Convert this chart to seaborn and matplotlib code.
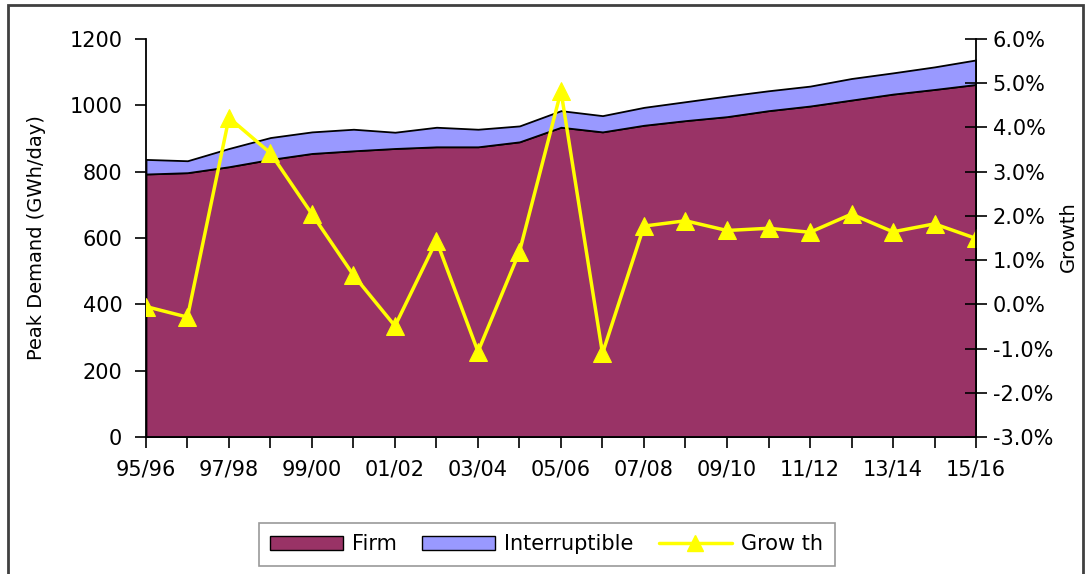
import numpy as np
import pandas as pd
import seaborn as sns
import matplotlib.pyplot as plt
from matplotlib.patches import Patch, Rectangle
from matplotlib.lines import Line2D
from matplotlib.ticker import FuncFormatter

years = ['95/96', '96/97', '97/98', '98/99', '99/00', '00/01', '01/02', '02/03',
         '03/04', '04/05', '05/06', '06/07', '07/08', '08/09', '09/10', '10/11',
         '11/12', '12/13', '13/14', '14/15', '15/16']
firm = [793, 797, 815, 837, 855, 863, 870, 875, 875, 890, 934,
        920, 940, 954, 966, 984, 998, 1016, 1034, 1048, 1063]
interruptible = [44, 36, 55, 66, 65, 65, 49, 59, 53, 48, 50,
                 49, 54, 57, 62, 60, 60, 65, 64, 68, 74]
growth = [-0.05, -0.29, 4.22, 3.42, 2.04, 0.66, -0.49, 1.44, -1.07, 1.19, 4.82,
          -1.11, 1.77, 1.89, 1.67, 1.72, 1.63, 2.04, 1.64, 1.82, 1.49]

df = pd.DataFrame({'year': years, 'firm': firm,
                   'interruptible': interruptible, 'growth': growth})
df['x'] = np.arange(len(df))

sns.set_style('white')
plt.rcParams['font.family'] = ['DejaVu Sans']
plt.rcParams['text.color'] = 'black'
plt.rcParams['axes.labelcolor'] = 'black'
plt.rcParams['xtick.color'] = 'black'
plt.rcParams['ytick.color'] = 'black'

fig = plt.figure(figsize=(10.91, 5.74), dpi=100)
ax = fig.add_axes([0.1338, 0.2387, 0.7608, 0.6933])

# stacked areas
ax.stackplot(df['x'], df['firm'], df['interruptible'],
             colors=['#993366', '#9999FF'], edgecolor='black', linewidth=1.3)
ax.set_xlim(0, len(df) - 1)
ax.set_ylim(0, 1200)
ax.set_yticks([0, 200, 400, 600, 800, 1000, 1200])
ax.set_xticks(df['x'])
ax.set_xticklabels([y if i % 2 == 0 else '' for i, y in enumerate(years)])
ax.tick_params(axis='x', direction='out', length=8, width=1.2, pad=8,
               labelsize=15, bottom=True)
ax.tick_params(axis='y', direction='out', length=8, width=1.2, pad=9,
               labelsize=15, left=True)
ax.set_ylabel('Peak Demand (GWh/day)', fontsize=14, labelpad=17)
for s in ['top', 'right']:
    ax.spines[s].set_visible(False)
for s in ['left', 'bottom']:
    ax.spines[s].set_color('black')
    ax.spines[s].set_linewidth(1.3)

# growth line on secondary axis
ax2 = ax.twinx()
sns.lineplot(data=df, x='x', y='growth', ax=ax2, color='#FFFF00',
             linewidth=2.5, marker='^', markersize=13,
             markeredgecolor='#FFFF00', legend=False)
ax2.set_ylim(-3, 6)
ax2.set_yticks(np.arange(-3, 7, 1))
ax2.yaxis.set_major_formatter(FuncFormatter(lambda v, p: f'{v:.1f}%'))
ax2.tick_params(axis='y', direction='inout', length=16, width=1.2, pad=4,
                labelsize=15, right=True)
ax2.set_ylabel('')
ax2.set_xlabel('')
ax.set_xlabel('')
for s in ['top', 'left', 'bottom']:
    ax2.spines[s].set_visible(False)
ax2.spines['right'].set_color('black')
ax2.spines['right'].set_linewidth(1.3)

fig.text(0.979, 0.587, 'Growth', rotation=90, fontsize=14,
         ha='center', va='center')

# legend
handles = [Patch(facecolor='#993366', edgecolor='black', label='Firm'),
           Patch(facecolor='#9999FF', edgecolor='black', label='Interruptible'),
           Line2D([0], [0], color='#FFFF00', lw=2.5, marker='^',
                  markersize=11, label='Grow th')]
leg = fig.legend(handles=handles, loc='center', bbox_to_anchor=(0.501, 0.052),
                 ncol=3, fontsize=15, frameon=True, fancybox=False,
                 handlelength=3.5, handleheight=0.7, columnspacing=1.2,
                 handletextpad=0.45, borderpad=0.55)
leg.get_frame().set_edgecolor('#808080')
leg.get_frame().set_linewidth(1.2)

# outer chart frame
fig.patches.append(Rectangle((8 / 1091, -0.05), 1075 / 1091, 1.05 - 5 / 574,
                             transform=fig.transFigure, fill=False,
                             edgecolor='#404040', linewidth=2))

fig.savefig('out.png', dpi=100)
